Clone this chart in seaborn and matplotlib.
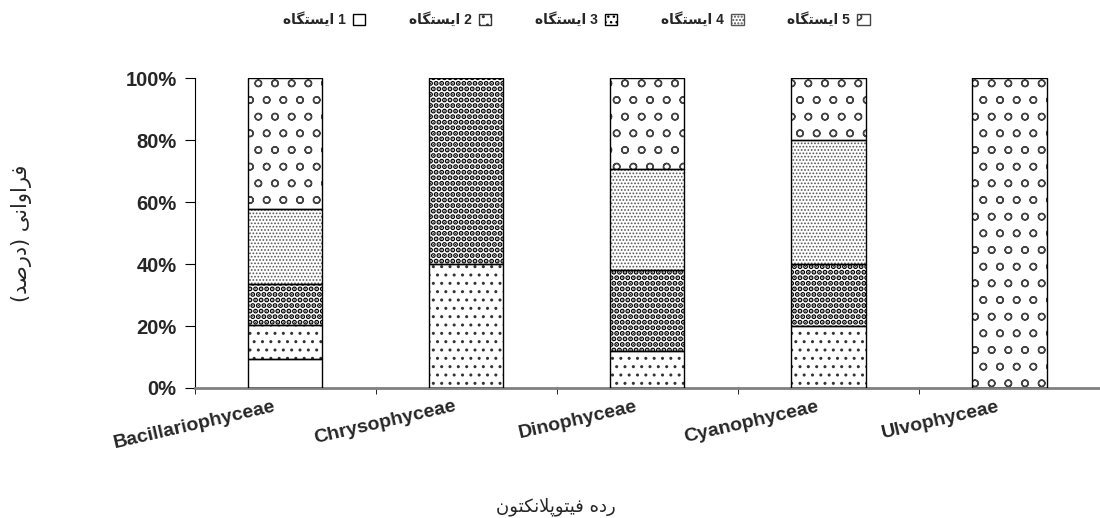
import numpy as np
import pandas as pd
import matplotlib
matplotlib.use("Agg")
import matplotlib.pyplot as plt
import matplotlib.transforms as mtransforms
import seaborn as sns
from matplotlib.patches import Patch, Rectangle
from matplotlib.ticker import FuncFormatter, FixedLocator

# classes and share (%) of each station
categories = ["Bacillariophyceae", "Chrysophyceae", "Dinophyceae", "Cyanophyceae", "Ulvophyceae"]
station1 = [9.4, 0, 0, 0, 0]
station2 = [10.9, 40, 11.8, 20, 0]
station3 = [13.2, 60, 26.3, 20, 0]
station4 = [24.2, 0, 32.6, 40, 0]
station5 = [42.3, 0, 29.3, 20, 100]

# Persian labels (presentation forms, visual order)
station_word = "\uFEE9\uFE8E\uFB95\uFE98\uFEB4\uFBFE\uFE8D"
station_labels = [station_word + " " + str(i) for i in range(1, 6)]
xlabel_text = ("\uFEE5\uFEEE\uFE98\uFB91\uFEE7\uFEFC\uFB58\uFEEE\uFE98\uFBFF\uFED3"
               " \uFEE9\uFEA9\uFEAD")
ylabel_text = ("(\uFEAA\uFEBB\uFEAD\uFEA9) "
               "\uFBFD\uFEE7\uFE8D\uFEED\uFE8D\uFEAE\uFED3")

sns.set_style("white")
plt.rcParams["font.family"] = ["Liberation Sans", "DejaVu Sans"]

df = pd.DataFrame({"cls": categories, "s1": station1, "s2": station2,
                   "s3": station3, "s4": station4, "s5": station5})
cols = ["s1", "s2", "s3", "s4", "s5"]
cum = df[cols].cumsum(axis=1)

hatches = ["", "..", "...", ".....", "o"]
hatch_cols = ["black", "#333333", "black", "#555555", "#444444"]
hatch_lw = [1.0, 1.0, 2.6, 0.8, 1.0]

fig = plt.figure(figsize=(11, 5.18), dpi=100)
ax = fig.add_axes([0.177, 0.251, 0.823, 0.598])

# draw tallest cumulative first, lower ones on top
for i in range(4, -1, -1):
    plt.rcParams["hatch.linewidth"] = hatch_lw[i]
    sns.barplot(x=df["cls"], y=cum[cols[i]], order=categories, ax=ax,
                color="white", edgecolor=hatch_cols[i], linewidth=0,
                hatch=hatches[i], width=0.41, errorbar=None, saturation=1)

# black outlines of each segment
for i in range(5):
    bottoms = cum[cols[i]] - df[cols[i]]
    for j in range(len(categories)):
        if df[cols[i]][j] > 0:
            ax.add_patch(Rectangle((j - 0.205, bottoms[j]), 0.41, df[cols[i]][j],
                                   fill=False, edgecolor="black", linewidth=1.0, zorder=5))

ax.set_xlim(-0.5, 4.5)
ax.set_ylim(0, 100)
ax.yaxis.set_major_locator(FixedLocator([0, 20, 40, 60, 80, 100]))
ax.yaxis.set_major_formatter(FuncFormatter(lambda v, p: f"{v:.0f}%"))
ax.set_xticks(range(5))
ax.set_xticklabels([""] * 5)
# category labels, slanted and shifted a bit left of the bar centre
shift = mtransforms.ScaledTranslation(-12 / 100, -10 / 100, fig.dpi_scale_trans)
for j, name in enumerate(categories):
    ax.text(j, 0, name, transform=ax.get_xaxis_transform() + shift, rotation=13,
            ha="right", va="top", rotation_mode="anchor", fontweight="bold", fontsize=14)
ax.set_xticks(np.arange(-0.5, 5, 1), minor=True)
ax.tick_params(axis="x", which="major", length=0)
ax.tick_params(axis="x", which="minor", length=4, color="black", direction="out", bottom=True)
ax.tick_params(axis="y", length=7, color="black", direction="out", left=True,
               labelsize=14.5, pad=6)
for t in ax.get_yticklabels():
    t.set_fontweight("bold")

sns.despine(ax=ax, top=True, right=True)
ax.spines["left"].set_color("black")
ax.spines["bottom"].set_color("#808080")
ax.spines["bottom"].set_linewidth(2)

ax.set_xlabel("")
ax.set_ylabel("")
fig.text(0.505, 0.022, xlabel_text, ha="center", va="center", fontsize=13,
         family=["DejaVu Sans"])
fig.text(0.02, 0.55, ylabel_text, ha="center", va="center", rotation=90, fontsize=15,
         family=["DejaVu Sans"])

handles = []
for i in range(5):
    plt.rcParams["hatch.linewidth"] = hatch_lw[i]
    handles.append(Patch(facecolor="white", edgecolor=hatch_cols[i], hatch=hatches[i],
                         linewidth=1))
plt.rcParams["hatch.linewidth"] = 1.0
fig.legend(handles, station_labels, loc="upper center", bbox_to_anchor=(0.524, 1.0),
           ncol=5, frameon=False, markerfirst=False, handlelength=0.9, handleheight=0.9,
           columnspacing=3.15, handletextpad=0.5,
           prop={"weight": "bold", "size": 10, "family": ["Liberation Sans", "DejaVu Sans"]})

fig.savefig("out.png", dpi=100)
